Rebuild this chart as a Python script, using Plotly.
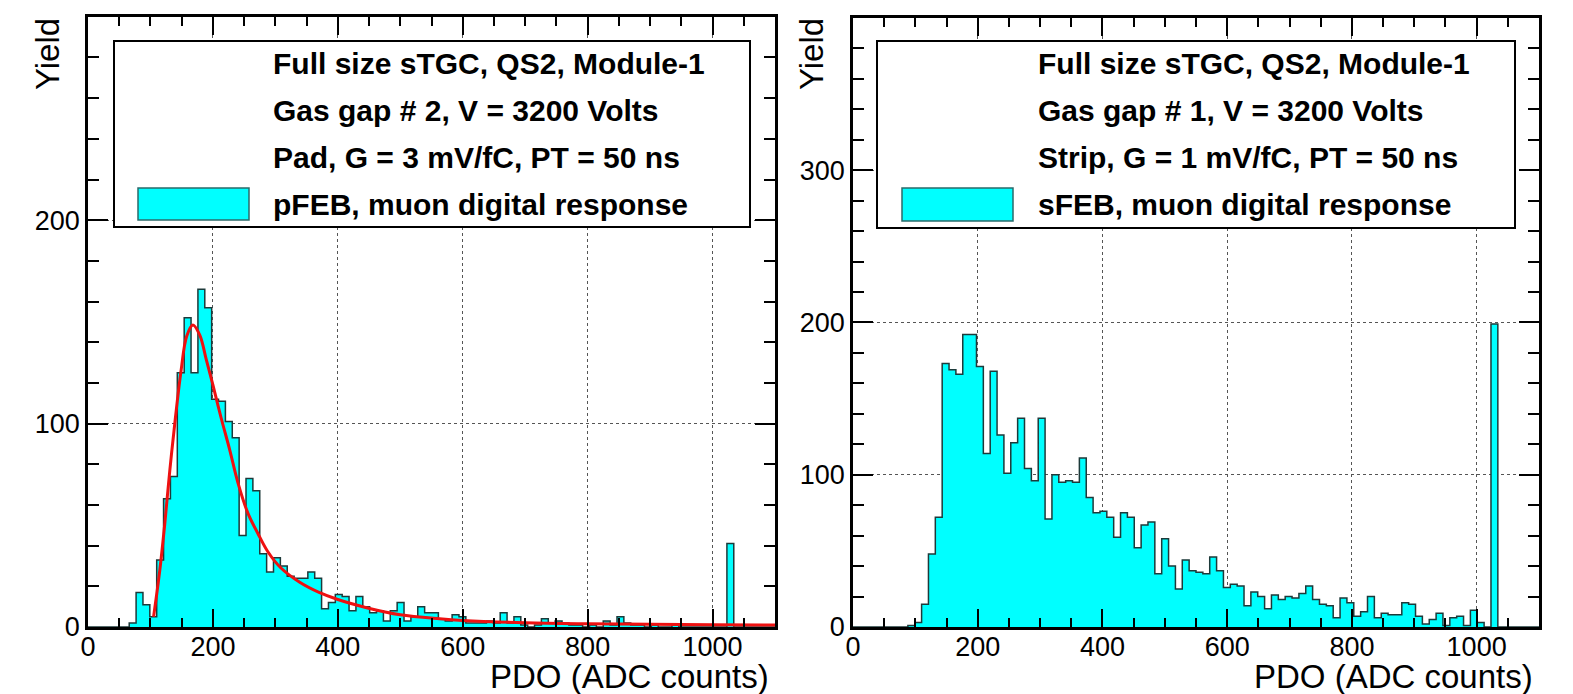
import plotly.graph_objects as go

# ---------------- data ----------------
BIN_WIDTH = 11
N_BINS = 100

# left panel: pFEB, pad, gas gap 2 (counts per bin, bins of 11 ADC from 0)
pad_counts = [
    0, 0, 0, 0, 0, 0, 2, 17, 11, 5,
    33, 63, 74, 125, 152, 125, 166, 157, 112, 111,
    101, 93, 45, 73, 67, 36, 27, 34, 30, 25,
    24, 24, 27, 24, 9, 12, 16, 15, 8, 15,
    10, 7, 8, 3, 8, 12, 3, 5, 10, 7,
    7, 4, 3, 6, 5, 2, 2, 2, 3, 2,
    7, 2, 5, 1, 0, 1, 4, 2, 3, 2,
    1, 1, 0, 1, 0, 3, 1, 5, 2, 1,
    1, 0, 1, 0, 0, 1, 0, 0, 0, 0,
    0, 0, 0, 41, 0, 0, 0, 0, 0, 0,
]

# right panel: sFEB, strip, gas gap 1
strip_counts = [
    0, 0, 0, 0, 0, 0, 0, 0, 1, 3,
    15, 48, 72, 173, 169, 166, 192, 192, 171, 114,
    168, 126, 101, 121, 137, 104, 96, 137, 71, 100,
    95, 96, 95, 111, 85, 75, 76, 72, 59, 75,
    72, 52, 67, 69, 35, 58, 40, 25, 44, 37,
    36, 35, 46, 37, 26, 28, 27, 14, 23, 20,
    12, 21, 18, 20, 19, 22, 27, 18, 15, 14,
    6, 19, 16, 7, 10, 20, 6, 9, 8, 8,
    16, 15, 7, 2, 5, 9, 1, 6, 7, 1,
    11, 3, 0, 199, 0, 0, 0, 0, 0, 0,
]

# red fit curve on the left panel
fit_x = [105, 115, 123, 131, 140, 149, 158, 168, 179, 189, 200, 213, 227, 240,
         256, 272, 288, 309, 339, 370, 400, 446, 500, 563, 600, 700, 800, 900,
         1000, 1100]
fit_y = [5, 28, 51, 77, 103, 126, 143, 148.5, 143.5, 132, 119, 103, 87, 71,
         56, 46, 37, 29, 22, 17, 13.5, 9.5, 6, 4, 3.2, 2.1, 1.6, 1.3, 1.1, 1.0]

left_text = ["Full size sTGC, QS2, Module-1",
             "Gas gap # 2, V = 3200 Volts",
             "Pad, G = 3 mV/fC, PT = 50 ns",
             "pFEB, muon digital response"]
right_text = ["Full size sTGC, QS2, Module-1",
              "Gas gap # 1, V = 3200 Volts",
              "Strip, G = 1 mV/fC, PT = 50 ns",
              "sFEB, muon digital response"]

x_title = "PDO (ADC counts)"
y_title = "Yield"

# ---------------- geometry helpers ----------------
W, H = 1573, 694
def px(x):
    return x / W
def py(y):
    return 1 - y / H

FONT = "Liberation Sans, Arial, Helvetica, sans-serif"
CYAN = "#00ffff"
OUTLINE = "#1d3a3a"

centers = [BIN_WIDTH * (i + 0.5) for i in range(N_BINS)]
edges = [BIN_WIDTH * i for i in range(N_BINS + 1)]

fig = go.Figure()

def add_hist(counts, xa, ya):
    fig.add_trace(go.Bar(x=centers, y=counts, width=BIN_WIDTH,
                         marker=dict(color=CYAN, line=dict(width=0)),
                         xaxis=xa, yaxis=ya, showlegend=False, hoverinfo="x+y"))
    fig.add_trace(go.Scatter(x=edges, y=counts + [counts[-1]], mode="lines",
                             line=dict(color=OUTLINE, width=1.5, shape="hv"),
                             xaxis=xa, yaxis=ya, showlegend=False, hoverinfo="skip"))

add_hist(pad_counts, "x", "y")
fig.add_trace(go.Scatter(x=fit_x, y=fit_y, mode="lines",
                         line=dict(color="#ee1111", width=3, shape="spline"),
                         xaxis="x", yaxis="y", showlegend=False))
add_hist(strip_counts, "x2", "y2")

TICKFONT = dict(family=FONT, size=27, color="black")

def xaxis_cfg(domain, anchor):
    return dict(domain=domain, anchor=anchor, range=[0, 1100], automargin=False,
                showline=True, linecolor="black", linewidth=2.5, mirror="ticks",
                ticks="inside", ticklen=18, tickwidth=2, tickcolor="black",
                tick0=0, dtick=200, ticklabelstandoff=-6,
                minor=dict(ticks="inside", ticklen=9, tickwidth=1.5, dtick=50,
                           tickcolor="black", showgrid=False),
                showgrid=True, gridcolor="#555555", griddash="dot", gridwidth=1,
                zeroline=False, tickfont=TICKFONT, fixedrange=True)

def yaxis_cfg(domain, anchor, top):
    return dict(domain=domain, anchor=anchor, range=[0, top], automargin=False,
                showline=True, linecolor="black", linewidth=2.5, mirror="ticks",
                ticks="inside", ticklen=20, tickwidth=2, tickcolor="black",
                tick0=0, dtick=100,
                minor=dict(ticks="inside", ticklen=11, tickwidth=1.5, dtick=20,
                           tickcolor="black", showgrid=False),
                showgrid=True, gridcolor="#555555", griddash="dot", gridwidth=1,
                zeroline=False, tickfont=TICKFONT, fixedrange=True)

ybot = py(627)
fig.update_layout(
    width=W, height=H,
    margin=dict(l=0, r=0, t=0, b=0, autoexpand=False),
    paper_bgcolor="white", plot_bgcolor="white",
    bargap=0, barmode="overlay",
    xaxis=xaxis_cfg([px(88), px(775)], "y"),
    yaxis=yaxis_cfg([ybot, py(17)], "x", 299.9),
    xaxis2=xaxis_cfg([px(853), px(1539)], "y2"),
    yaxis2=yaxis_cfg([ybot, py(18)], "x2", 399.9),
    showlegend=False,
)

shapes = []
annotations = []

def legend_block(box, swatch, text_x, lines):
    x0, y0, x1, y1 = box
    shapes.append(dict(type="rect", xref="paper", yref="paper",
                       x0=px(x0), x1=px(x1), y0=py(y1), y1=py(y0),
                       line=dict(color="black", width=2), fillcolor="white",
                       layer="above"))
    sx0, sy0, sx1, sy1 = swatch
    shapes.append(dict(type="rect", xref="paper", yref="paper",
                       x0=px(sx0), x1=px(sx1), y0=py(sy1), y1=py(sy0),
                       line=dict(color="#2a6b6b", width=1.5), fillcolor=CYAN,
                       layer="above"))
    for k, t in enumerate(lines):
        ymid = 64 + k * 46.7
        annotations.append(dict(text="<b>%s</b>" % t, xref="paper", yref="paper",
                                x=px(text_x), y=py(ymid), xanchor="left",
                                yanchor="middle", showarrow=False,
                                font=dict(family=FONT, size=30, color="black")))

legend_block((114, 41, 750, 227), (138, 188, 249, 220), 271, left_text)
legend_block((877, 41, 1515, 228), (902, 188, 1013, 221), 1036, right_text)

for xr in [775, 1539]:
    annotations.append(dict(text=x_title, xref="paper", yref="paper",
                            x=px(xr - 4), y=py(676), xanchor="right", yanchor="middle",
                            showarrow=False,
                            font=dict(family=FONT, size=33, color="black")))
for xl in [48, 812]:
    annotations.append(dict(text=y_title, xref="paper", yref="paper",
                            x=px(xl), y=py(16), xanchor="center", yanchor="top",
                            textangle=-90, showarrow=False,
                            font=dict(family=FONT, size=33, color="black")))

fig.update_layout(shapes=shapes, annotations=annotations)

fig.write_html("out.html", config=dict(displayModeBar=False),
               post_script="document.body.style.margin='0';"
                           "document.body.style.overflow='hidden';")
